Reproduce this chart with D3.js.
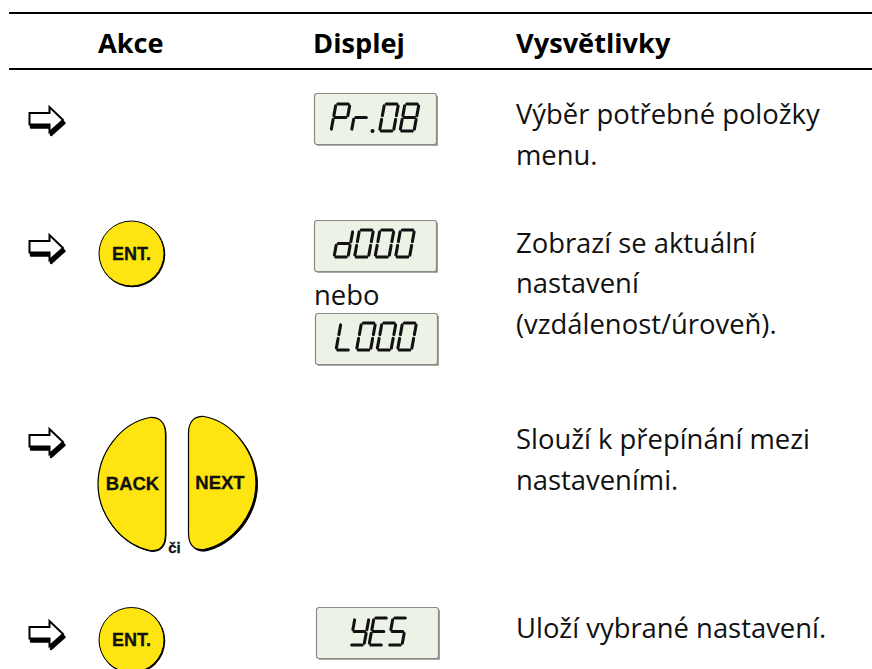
<!DOCTYPE html>
<html>
<head>
<meta charset="utf-8">
<title>Akce, displej, vysvětlivky</title>
<script src="https://cdn.jsdelivr.net/npm/d3@7"></script>
<style>
  html, body { margin: 0; padding: 0; background: #fff; }
  svg { display: block; }
  .head { font-family: "Open Sans", sans-serif; font-weight: 700; font-size: 27.2px; fill: #000; }
  .body { font-family: "Open Sans", sans-serif; font-size: 27.4px; fill: #111; }
  .key { font-family: "Liberation Sans", Arial, sans-serif; font-weight: 700; fill: #111; stroke: #111; stroke-width: 0.3px; text-anchor: middle; }
</style>
</head>
<body>
<div id="chart"></div>
<script>
// table content
var headers = ["Akce", "Displej", "Vysvětlivky"];
var columns = ["action", "display", "note"];
var rows = ["menu", "current", "toggle", "save"];
var notes = [
  ["Výběr potřebné položky", "menu."],
  ["Zobrazí se aktuální", "nastavení", "(vzdálenost/úroveň)."],
  ["Slouží k přepínání mezi", "nastaveními."],
  ["Uloží vybrané nastavení."]
];
var displays = ["Pr.08", "d000", "L000", "YES"];
var altWord = "nebo";
var orWord = "či";
var enterLabel = "ENT.";
var backLabel = "BACK";
var nextLabel = "NEXT";

// which segments are lit for each character
var glyphs = {
  "P": "abefg", "r": "eg", "0": "abcdef", "8": "abcdefg",
  "d": "bcdeg", "L": "def", "Y": "bcdfg", "E": "adefg", "S": "acdfg"
};

var svgWidth = 872;
var svgHeight = 669;

var svg = d3.select("#chart")
  .append("svg")
  .attr("width", svgWidth)
  .attr("height", svgHeight);

// column and row positions
var headerX = d3.scaleOrdinal().domain(headers).range([98, 313, 516]);
var columnX = d3.scaleOrdinal().domain(columns).range([28, 314, 516]);
var arrowY = d3.scaleOrdinal().domain(rows).range([120, 248, 442, 634]);
var noteY = d3.scaleOrdinal().domain(rows).range([124, 252.5, 449, 638]);
var noteLine = d3.scaleLinear().domain([0, 1]).range([0, 40.5]);

// header rules
svg.selectAll("line.rule")
  .data([13, 69])
  .enter()
  .append("line")
  .attr("class", "rule")
  .attr("x1", 9)
  .attr("x2", svgWidth)
  .attr("y1", d => d)
  .attr("y2", d => d)
  .attr("stroke", "#000")
  .attr("stroke-width", 2);

svg.selectAll("text.head")
  .data(headers)
  .enter()
  .append("text")
  .attr("class", "head")
  .attr("x", d => headerX(d))
  .attr("y", 53)
  .text(d => d);

// explanation text
var noteGroups = svg.selectAll("g.note")
  .data(notes)
  .enter()
  .append("g")
  .attr("class", "note")
  .attr("transform", (d, i) => `translate(${columnX("note")}, ${noteY(rows[i])})`);

noteGroups.selectAll("text")
  .data(d => d)
  .enter()
  .append("text")
  .attr("class", "body")
  .attr("y", (d, i) => noteLine(i))
  .text(d => d);

// outlined arrows
var arrowPath = "M1.5,-7 H21.5 V-13 L35,0 L21.5,12 V4.5 H1.5 Z";
var arrows = svg.selectAll("g.arrow")
  .data(rows)
  .enter()
  .append("g")
  .attr("class", "arrow")
  .attr("transform", d => `translate(${columnX("action")}, ${arrowY(d)})`);

arrows.append("path")
  .attr("d", arrowPath)
  .attr("transform", "translate(1.5, 3)")
  .attr("fill", "#000")
  .attr("stroke", "#000")
  .attr("stroke-width", 2.4)
  .attr("stroke-linejoin", "round");

arrows.append("path")
  .attr("d", arrowPath)
  .attr("fill", "#fff")
  .attr("stroke", "#000")
  .attr("stroke-width", 2);

// round ENT. keys
var yellow = "#fee511";
var enterKeys = svg.selectAll("g.enter-key")
  .data(["current", "save"])
  .enter()
  .append("g")
  .attr("class", "enter-key")
  .attr("transform", d => `translate(131.5, ${arrowY(d) + (d === "save" ? 6 : 5.5)})`);

enterKeys.append("circle")
  .attr("cx", 0.8)
  .attr("cy", 0.8)
  .attr("r", 33)
  .attr("fill", "#000");

enterKeys.append("circle")
  .attr("r", 32.5)
  .attr("fill", yellow)
  .attr("stroke", "#000")
  .attr("stroke-width", 1);

enterKeys.append("text")
  .attr("class", "key")
  .attr("y", 6)
  .attr("font-size", 18)
  .text(enterLabel);

// BACK / NEXT half-round keys
var backPath = "M52,0.5 C62,0 67.5,6 67.5,17 V117 C67.5,129 62,134.5 52,133.5 C22,127 0,97 0,67 C0,37 22,6 52,0.5 Z";
var halfKeys = svg.selectAll("g.half-key")
  .data([backLabel, nextLabel])
  .enter()
  .append("g")
  .attr("class", "half-key")
  .attr("transform", d => d === backLabel
    ? "translate(98, 417)"
    : "translate(256, 416) scale(-1, 1)");

halfKeys.append("path")
  .attr("d", backPath)
  .attr("transform", d => d === backLabel ? "translate(0.5, 0.8)" : "translate(-1.5, 1.5)")
  .attr("fill", "#000")
  .attr("stroke", "#000");

halfKeys.append("path")
  .attr("d", backPath)
  .attr("fill", yellow)
  .attr("stroke", "#000")
  .attr("stroke-width", 1.2);

svg.append("text")
  .attr("class", "key")
  .attr("x", 132.5)
  .attr("y", 489.5)
  .attr("font-size", 18.5)
  .text(backLabel);

svg.append("text")
  .attr("class", "key")
  .attr("x", 220)
  .attr("y", 488.5)
  .attr("font-size", 18.5)
  .text(nextLabel);

svg.append("text")
  .attr("class", "key")
  .attr("x", 174.5)
  .attr("y", 553)
  .attr("font-size", 15)
  .text(orWord);

// LCD panels
var panelX = d3.scaleOrdinal().domain(displays).range([314, 314, 315, 316]);
var panelY = d3.scaleOrdinal().domain(displays).range([93, 220, 313, 607]);
var panelW = 122;
var panelH = 51;

var panels = svg.selectAll("g.panel")
  .data(displays)
  .enter()
  .append("g")
  .attr("class", "panel")
  .attr("aria-label", d => d)
  .attr("transform", d => `translate(${panelX(d)}, ${panelY(d)})`);

panels.append("rect")
  .attr("x", 0.5)
  .attr("y", 0.5)
  .attr("width", panelW)
  .attr("height", panelH)
  .attr("rx", 2.5)
  .attr("fill", "#edf2e6")
  .attr("stroke", "#8a8a86")
  .attr("stroke-width", 1.2);

panels.append("path")
  .attr("d", `M${panelW + 1},3 V${panelH + 1} H3`)
  .attr("fill", "none")
  .attr("stroke", "#8a8a86")
  .attr("stroke-width", 1.6);

// segment ends, in a unit cell
var segments = {
  a: [[0.12, 0], [0.88, 0]],
  b: [[1, 0.07], [1, 0.43]],
  c: [[1, 0.57], [1, 0.93]],
  d: [[0.12, 1], [0.88, 1]],
  e: [[0, 0.57], [0, 0.93]],
  f: [[0, 0.07], [0, 0.43]],
  g: [[0.12, 0.5], [0.88, 0.5]]
};
var cellW = 14;
var cellH = 27;
var slant = 5;
var segX = d3.scaleLinear().domain([0, 1]).range([0, cellW]);
var segY = d3.scaleLinear().domain([0, 1]).range([0, cellH]);

var charStart = d3.scaleOrdinal().domain(displays).range([17, 20, 21, 34]);
var charTop = d3.scaleOrdinal().domain(displays).range([11, 10, 10, 11]);

function layoutChars(text) {
  var pos = 0;
  return Array.from(text).map(function(c) {
    var item = { c: c, x: pos };
    pos += c === "." ? 9 : (c === "r" ? 19 : (text === "YES" ? 19 : 20.5));
    return item;
  });
}

var chars = panels.selectAll("g.char")
  .data(d => layoutChars(d).map(o => Object.assign(o, { text: d })))
  .enter()
  .append("g")
  .attr("class", "char")
  .attr("transform", d => `translate(${charStart(d.text) + d.x}, ${charTop(d.text)})`);

chars.selectAll("line")
  .data(d => Array.from(glyphs[d.c] || "").map(s => segments[s]))
  .enter()
  .append("line")
  .attr("x1", d => segX(d[0][0]) + slant * (1 - d[0][1]))
  .attr("y1", d => segY(d[0][1]))
  .attr("x2", d => segX(d[1][0]) + slant * (1 - d[1][1]))
  .attr("y2", d => segY(d[1][1]))
  .attr("stroke", "#111")
  .attr("stroke-width", 3)
  .attr("stroke-linecap", "round");

// decimal point
chars.filter(d => d.c === ".")
  .append("circle")
  .attr("cx", 2)
  .attr("cy", cellH)
  .attr("r", 2)
  .attr("fill", "#111");

svg.append("text")
  .attr("class", "body")
  .attr("x", columnX("display"))
  .attr("y", 305)
  .text(altWord);
</script>
</body>
</html>
